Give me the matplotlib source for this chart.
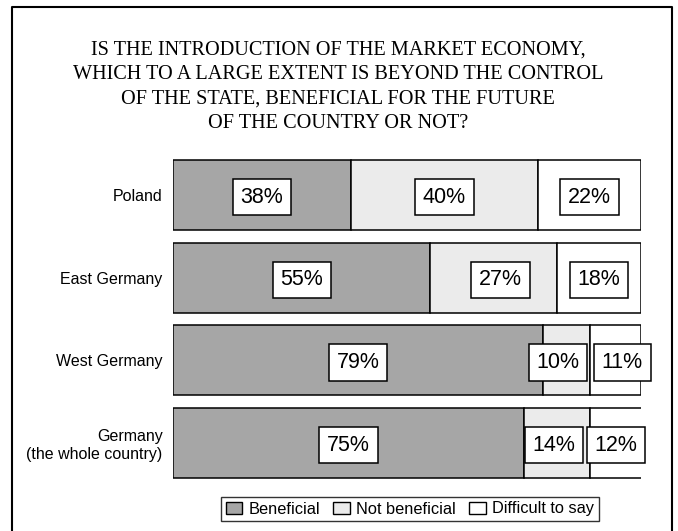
import matplotlib
matplotlib.use("Agg")
import matplotlib.pyplot as plt
from matplotlib.lines import Line2D
from matplotlib.patches import Patch

categories = ["Poland", "East Germany", "West Germany", "Germany\n(the whole country)"]
beneficial = [38, 55, 79, 75]
not_beneficial = [40, 27, 10, 14]
difficult = [22, 18, 11, 12]
series_names = ["Beneficial", "Not beneficial", "Difficult to say"]
title = ("IS THE INTRODUCTION OF THE MARKET ECONOMY,\n"
         "WHICH TO A LARGE EXTENT IS BEYOND THE CONTROL\n"
         "OF THE STATE, BENEFICIAL FOR THE FUTURE\n"
         "OF THE COUNTRY OR NOT?")

colors = ["#a6a6a6", "#ebebeb", "#ffffff"]
# small horizontal nudges (points) of value labels, per row/series (layout only)
nudges = [[0, 0, 0], [0, 5, 0], [0, -6, 5], [0, -2, -1]]

W, H = 678, 531
fig = plt.figure(figsize=(W / 100, H / 100), dpi=100)
fig.patch.set_facecolor("white")

ax = fig.add_axes([173 / W, 1 - 484.3 / H, 468 / W, 330.6 / H])
ax.set_xlim(0, 100)
ypos = list(range(len(categories)))
ax.set_ylim(len(categories) - 0.5, -0.5)

series = [beneficial, not_beneficial, difficult]
left = [0] * len(categories)
for si, vals in enumerate(series):
    ax.barh(ypos, vals, left=left, height=0.85, color=colors[si],
            edgecolor="black", linewidth=1.1, label=series_names[si])
    for i, v in enumerate(vals):
        cx = left[i] + v / 2
        ax.annotate(f"{v}%", xy=(cx, ypos[i]), xytext=(nudges[i][si], -1.5),
                    textcoords="offset points", ha="center", va="center",
                    fontsize=15.5, family="Liberation Sans",
                    bbox=dict(boxstyle="square,pad=0.36", fc="white",
                              ec="black", lw=1.1))
    left = [l + v for l, v in zip(left, vals)]

ax.set_yticks(ypos)
ax.set_yticklabels(categories, fontsize=11.5, family="Liberation Sans")
ax.tick_params(axis="y", length=0, pad=7.5)
ax.set_xticks([])
for s in ax.spines.values():
    s.set_visible(False)

fig.text(338 / W, 1 - 86.5 / H, title, ha="center", va="center",
         fontsize=14.6, family="Liberation Serif", linespacing=1.4)

handles = [Patch(facecolor=c, edgecolor="black", linewidth=1.0) for c in colors]
leg = fig.legend(handles, series_names, loc="center",
                 bbox_to_anchor=(410 / W, 1 - 509 / H), ncol=3,
                 prop={"family": "Liberation Sans", "size": 11.8},
                 frameon=True, fancybox=False, edgecolor="black",
                 handlelength=1.0, handleheight=0.7, handletextpad=0.4,
                 columnspacing=0.8, borderpad=0.3, borderaxespad=0)
leg.get_frame().set_linewidth(1.0)

# outer border (left, top, right)
lx, rx, ty = 11.5 / W, 672 / W, 1 - 7 / H
fig.add_artist(Line2D([lx, lx, rx, rx], [0, ty, ty, 0], color="black",
                      lw=1.5, transform=fig.transFigure))

fig.savefig("out.png", dpi=100)
